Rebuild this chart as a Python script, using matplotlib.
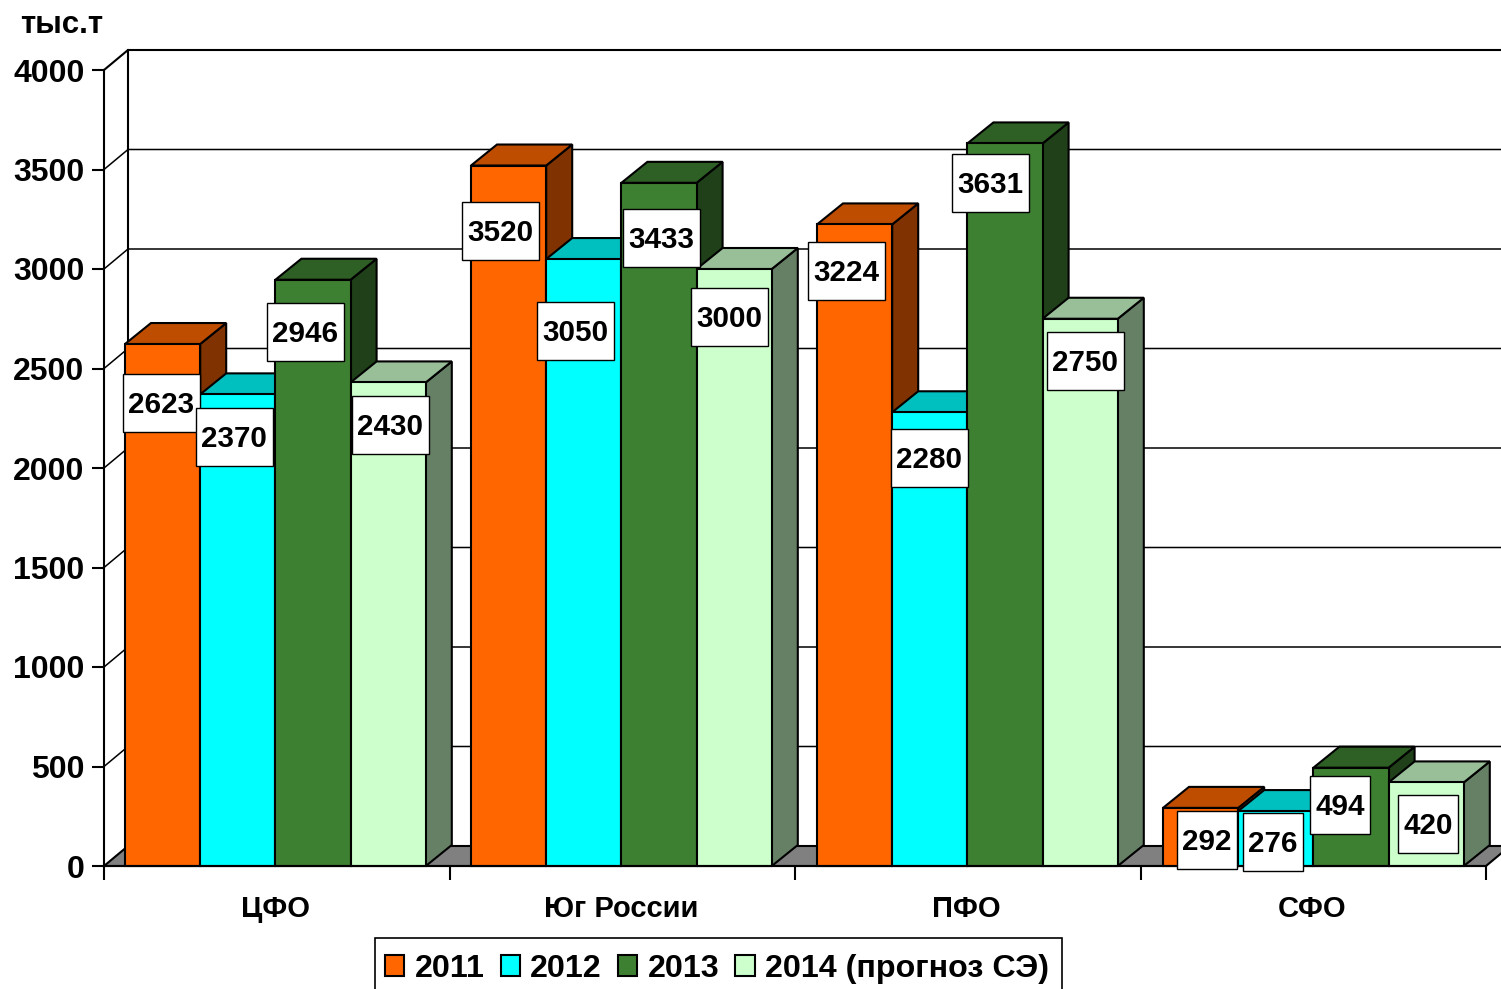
import matplotlib
matplotlib.use("Agg")
import matplotlib.pyplot as plt
from matplotlib.patches import Polygon, Rectangle, Patch

plt.rcParams['font.family'] = ['Liberation Sans', 'DejaVu Sans']
plt.rcParams['font.weight'] = 'bold'

categories = ['ЦФО', 'Юг России', 'ПФО', 'СФО']
series_names = ['2011', '2012', '2013', '2014 (прогноз СЭ)']
v2011 = [2623, 3520, 3224, 292]
v2012 = [2370, 3050, 2280, 276]
v2013 = [2946, 3433, 3631, 494]
v2014 = [2430, 3000, 2750, 420]
y_ticks = [0, 500, 1000, 1500, 2000, 2500, 3000, 3500, 4000]
series = [v2011, v2012, v2013, v2014]

front = ['#FF6600', '#00FFFF', '#3E8032', '#CCFFCC']
top = ['#BF4D00', '#00BFBF', '#2E5F25', '#99BF99']
side = ['#803300', '#008080', '#1F4019', '#668066']

W, H = 1501, 989
fig = plt.figure(figsize=(W / 100, H / 100), dpi=100)
X0, X1, Y0, Y1 = 104, 1486, 866, 70
ax = fig.add_axes([X0 / W, 1 - Y0 / H, (X1 - X0) / W, (Y0 - Y1) / H])
ax.set_xlim(0, 4)
ax.set_ylim(0, 4000)
ax.patch.set_visible(False)
ux = (X1 - X0) / 4
uy = (Y0 - Y1) / 4000


def px(x):
    return (x - X0) / ux


def py(y):
    return (Y0 - y) / uy


LW = 1.5
wall_dx, wall_dy = 24 / ux, 20 / uy
bar_dx, bar_dy = 26 / ux, 21 / uy
bar_w = 75.2 / ux
start = 21 / ux

# back wall and floor
ax.add_patch(Polygon([(0, 0), (4, 0), (4 + wall_dx, wall_dy), (wall_dx, wall_dy)],
                     closed=True, fc='#808080', ec='black', lw=LW, clip_on=False, zorder=1))
ax.plot([wall_dx, wall_dx], [wall_dy, 4000 + wall_dy], color='black', lw=LW, clip_on=False, zorder=1)
for t in y_ticks[1:]:
    lw = LW if t == 4000 else 1.1
    ax.plot([0, wall_dx, 4 + wall_dx], [t, t + wall_dy, t + wall_dy],
            color='black', lw=lw, clip_on=False, zorder=1, solid_joinstyle='miter')

# bars with top and side faces
z = 2
for g in range(len(categories)):
    g_start = g + start + g * 0.5 / ux
    for s, vals in enumerate(series):
        v = vals[g]
        x = g_start + s * bar_w
        ax.add_patch(Polygon([(x + bar_w, 0), (x + bar_w + bar_dx, bar_dy),
                              (x + bar_w + bar_dx, v + bar_dy), (x + bar_w, v)],
                             closed=True, fc=side[s], ec='black', lw=LW, clip_on=False, zorder=z))
        ax.add_patch(Polygon([(x, v), (x + bar_w, v), (x + bar_w + bar_dx, v + bar_dy), (x + bar_dx, v + bar_dy)],
                             closed=True, fc=top[s], ec='black', lw=LW, clip_on=False, zorder=z))
        ax.bar(x, v, width=bar_w, align='edge', color=front[s], edgecolor='black', lw=LW,
               clip_on=False, zorder=z)
        z += 1

# value label boxes (centres in canvas pixels, by series then category)
label_px = [[(161, 403), (500, 231), (846, 271), (1207, 840)],
            [(234, 437), (575, 331), (929, 458), (1273, 842)],
            [(305, 332), (661, 238), (990, 183), (1340, 805)],
            [(390, 425), (729, 317), (1085, 361), (1428, 824)]]
for s, vals in enumerate(series):
    for g, v in enumerate(vals):
        cx, cy = label_px[s][g]
        txt = str(v)
        bw = 77 if len(txt) == 4 else 60
        bh = 58
        ax.add_patch(Rectangle((px(cx - bw / 2), py(cy + bh / 2)), bw / ux, bh / uy,
                               fc='white', ec='black', lw=1.0, clip_on=False, zorder=100))
        ax.text(px(cx), py(cy + 2), txt, ha='center', va='center', fontsize=21.3, fontweight='bold',
                zorder=101, clip_on=False)

# axes
for name in ['top', 'right']:
    ax.spines[name].set_visible(False)
for name in ['left', 'bottom']:
    ax.spines[name].set_linewidth(LW)
    ax.spines[name].set_zorder(90)
ax.set_yticks(y_ticks)
ax.set_yticklabels([str(t) for t in y_ticks], fontsize=23, fontweight='bold')
ax.tick_params(axis='y', length=9, width=LW, pad=5)
ax.set_xticks(range(5))
ax.set_xticklabels([])
ax.tick_params(axis='x', which='major', length=10, width=LW)
ax.set_xticks([(g + 0.5 - 1.5 / ux) for g in range(4)], minor=True)
ax.set_xticklabels(categories, minor=True, fontsize=21, fontweight='bold')
ax.tick_params(axis='x', which='minor', length=0, pad=21)

fig.text(20 / W, 1 - 25 / H, 'тыс.т', fontsize=22.5, fontweight='bold', ha='left', va='center')

# legend
fig.add_artist(Rectangle((375 / W, -20 / H), 687 / W, (989 - 938 + 20) / H, transform=fig.transFigure,
                         fc='white', ec='black', lw=1.2, zorder=1))
handles = [Patch(fc=front[i], ec='black', lw=LW, label=series_names[i]) for i in range(4)]
leg = fig.legend(handles=handles, loc='center left', bbox_to_anchor=(385 / W, 1 - 969 / H), ncol=4,
                 prop={'family': 'Liberation Sans', 'weight': 'bold', 'size': 23.2}, frameon=False,
                 borderaxespad=0, borderpad=0, handlelength=0.6, handleheight=0.62,
                 handletextpad=0.32, columnspacing=0.5)

fig.savefig('out.png', dpi=100)
